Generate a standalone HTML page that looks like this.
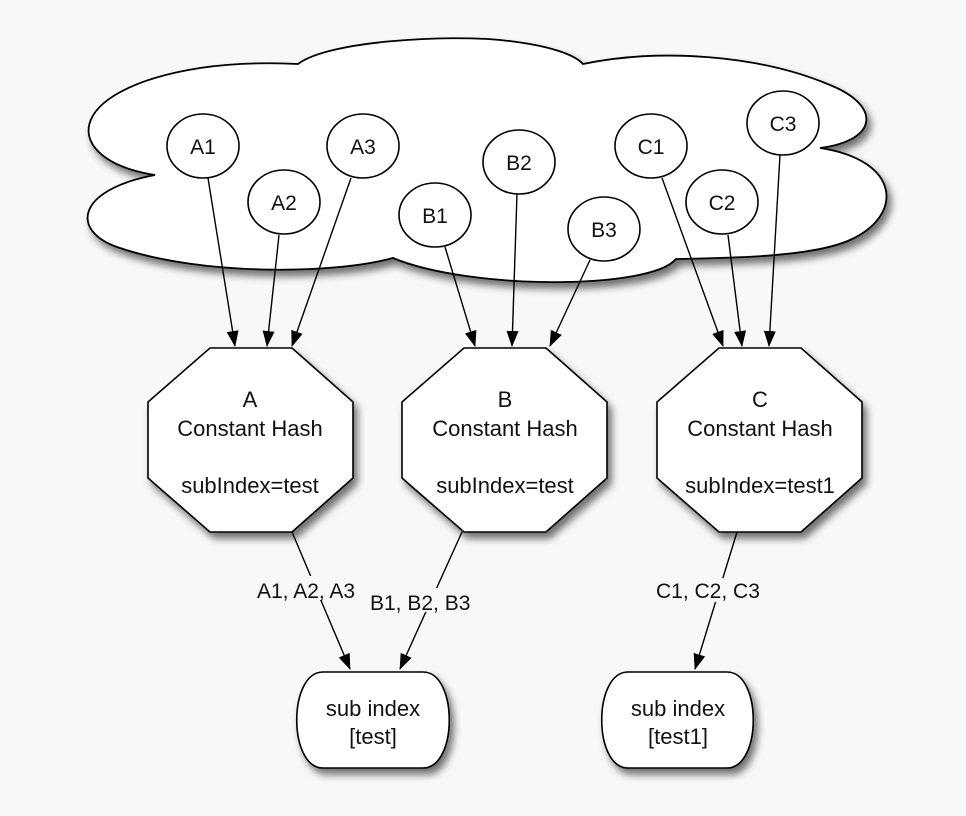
<!DOCTYPE html>
<html><head><style>
html,body{margin:0;padding:0;background:#f8f8f8;}
svg{display:block;font-family:"Liberation Sans",Arial,sans-serif;}
</style></head><body>
<svg width="966" height="816" viewBox="0 0 966 816" xmlns="http://www.w3.org/2000/svg">
<defs>
<filter id="sh" x="-10%" y="-10%" width="130%" height="140%">
<feGaussianBlur in="SourceAlpha" stdDeviation="4"/>
<feOffset dx="4" dy="6" result="o"/>
<feComponentTransfer><feFuncA type="linear" slope="0.55"/></feComponentTransfer>
<feMerge><feMergeNode/><feMergeNode in="SourceGraphic"/></feMerge>
</filter>
<marker id="ar" markerWidth="16" markerHeight="14" refX="15" refY="6" orient="auto" markerUnits="userSpaceOnUse">
<path d="M0,0 L16,6 L0,12 Z" fill="#000"/>
</marker>
</defs>
<rect width="966" height="816" fill="#f8f8f8"/>
<path filter="url(#sh)" fill="#fff" stroke="#000" stroke-width="1.8" d="
M155,175 C60,160 60,90 200,68 C240,62 280,63 298,64
C330,40 450,35 500,40 C550,45 575,55 583,64
C660,48 760,55 830,85 C880,105 880,140 820,148
C900,160 905,215 850,240 C810,258 720,258 676,259
C650,290 470,290 393,258
C330,275 200,275 120,248 C70,232 75,190 155,175 Z"/>
<g fill="#fff" stroke="#000" stroke-width="1.6">
<ellipse cx="203" cy="146" rx="36" ry="32"/>
<ellipse cx="363" cy="146" rx="36" ry="32"/>
<ellipse cx="284" cy="202" rx="36" ry="32"/>
<ellipse cx="435" cy="215" rx="36" ry="32"/>
<ellipse cx="519" cy="162" rx="36" ry="32"/>
<ellipse cx="604" cy="229" rx="36" ry="32"/>
<ellipse cx="651" cy="146" rx="36" ry="32"/>
<ellipse cx="722" cy="202" rx="36" ry="32"/>
<ellipse cx="783" cy="123" rx="36" ry="32"/>
</g>
<g font-size="21" text-anchor="middle" fill="#111">
<text x="203" y="154">A1</text><text x="363" y="154">A3</text><text x="284" y="210">A2</text>
<text x="435" y="223">B1</text><text x="519" y="170">B2</text><text x="604" y="237">B3</text>
<text x="651" y="154">C1</text><text x="722" y="210">C2</text><text x="783" y="131">C3</text>
</g>
<g stroke="#000" stroke-width="1.4" marker-end="url(#ar)">
<line x1="208" y1="178" x2="235" y2="346"/>
<line x1="279" y1="235" x2="267" y2="346"/>
<line x1="351" y1="178" x2="292" y2="346"/>
<line x1="445" y1="247" x2="475" y2="346"/>
<line x1="517" y1="194" x2="512" y2="346"/>
<line x1="590" y1="260" x2="550" y2="346"/>
<line x1="662" y1="178" x2="723" y2="346"/>
<line x1="728" y1="235" x2="742" y2="346"/>
<line x1="780" y1="155" x2="769" y2="346"/>
<line x1="292" y1="532" x2="350" y2="669"/>
<line x1="462" y1="532" x2="400" y2="669"/>
<line x1="737" y1="532" x2="695" y2="669"/>
</g>
<g filter="url(#sh)" fill="#fff" stroke="#000" stroke-width="1.6">
<polygon points="210,348 292,348 353,402 353,478 292,532 210,532 148,478 148,402"/>
<polygon points="464,348 546,348 607,402 607,478 546,532 464,532 402,478 402,402"/>
<polygon points="719,348 801,348 862,402 862,478 801,532 719,532 657,478 657,402"/>
<path d="M323,672 L423,672 C458,672 458,768 423,768 L323,768 C288,768 288,672 323,672 Z"/>
<path d="M628,672 L727,672 C762,672 762,768 727,768 L628,768 C593,768 593,672 628,672 Z"/>
</g>
<g font-size="22" text-anchor="middle" fill="#111">
<text x="250" y="407">A</text><text x="250" y="436">Constant Hash</text><text x="250" y="493">subIndex=test</text>
<text x="505" y="407">B</text><text x="505" y="436">Constant Hash</text><text x="505" y="493">subIndex=test</text>
<text x="760" y="407">C</text><text x="760" y="436">Constant Hash</text><text x="760" y="493">subIndex=test1</text>
<text x="373" y="716">sub index</text><text x="373" y="744">[test]</text>
<text x="678" y="716">sub index</text><text x="678" y="744">[test1]</text>
</g>
<g font-size="21" fill="#111">
<rect x="300" y="576" width="70" height="24" fill="#f8f8f8"/>
<text x="257" y="598">A1, A2, A3</text>
<rect x="368" y="588" width="122" height="24" fill="#f8f8f8"/>
<text x="370" y="610">B1, B2, B3</text>
<rect x="655" y="578" width="122" height="24" fill="#f8f8f8"/>
<text x="656" y="598">C1, C2, C3</text>
</g>
</svg>
</body></html>
